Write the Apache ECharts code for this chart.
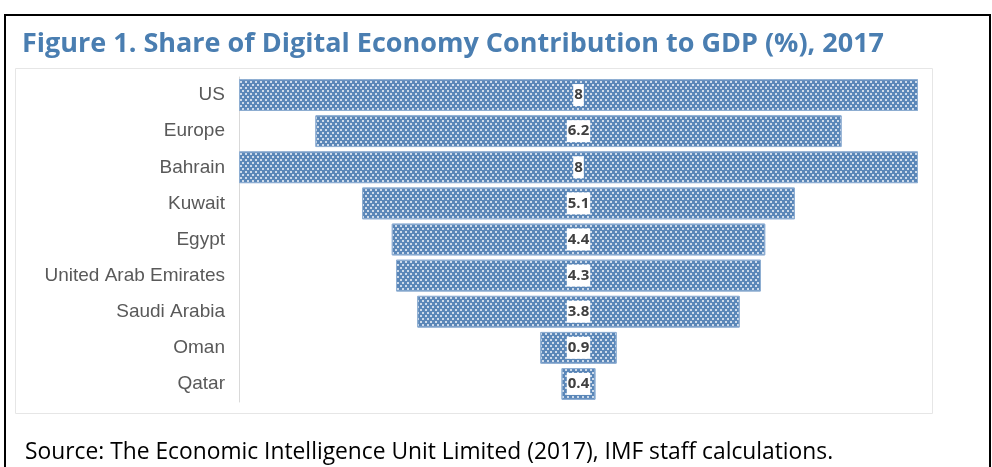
<!DOCTYPE html>
<html>
<head>
<meta charset="utf-8">
<script src="https://cdn.jsdelivr.net/npm/echarts@6/dist/echarts.min.js"></script>
<style>
html,body{margin:0;padding:0;background:#fff;}
#chart{width:992px;height:467px;}
</style>
</head>
<body>
<div id="chart"></div>
<script>
const categories = ['US','Europe','Bahrain','Kuwait','Egypt','United Arab Emirates','Saudi Arabia','Oman','Qatar'];
const values = [8, 6.2, 8, 5.1, 4.4, 4.3, 3.8, 0.9, 0.4];
const maxValue = 8;
const titleText = 'Figure 1. Share of Digital Economy Contribution to GDP (%), 2017';
const sourceText = 'Source: The Economic Intelligence Unit Limited (2017), IMF staff calculations.';

const offsets = values.map(v => (maxValue - v) / 2);

const chart = echarts.init(document.getElementById('chart'), null, {renderer: 'canvas'});
chart.setOption({
  animation: false,
  grid: {left: 239, right: 74, top: 77, bottom: 65, containLabel: false},
  xAxis: {type: 'value', min: 0, max: maxValue, show: false},
  yAxis: {
    type: 'category', data: categories, inverse: true,
    axisLine: {show: true, lineStyle: {color: '#d9d9d9', width: 1}},
    axisTick: {show: false},
    axisLabel: {color: '#595959', fontFamily: 'Liberation Sans', fontSize: 19, margin: 14}
  },
  graphic: [
    {type: 'rect', shape: {x: 5, y: 15, width: 985, height: 470}, style: {fill: 'none', stroke: '#000', lineWidth: 2}, silent: true},
    {type: 'rect', shape: {x: 15.5, y: 68.5, width: 917, height: 345}, style: {fill: 'none', stroke: '#e6e6e6', lineWidth: 1}, silent: true},
    {type: 'text', left: 22, top: 31, style: {text: titleText, fill: '#4a7eb1', font: 'bold 27px "Open Sans"'}},
    {type: 'text', left: 25, top: 441, style: {text: sourceText, fill: '#000', font: '22.8px "Open Sans"'}}
  ],
  series: [
    {
      type: 'bar', stack: 'f', data: offsets, barWidth: '88%',
      itemStyle: {color: 'transparent'}, silent: true
    },
    {
      type: 'bar', stack: 'f', data: values, barWidth: '88%',
      itemStyle: {
        color: '#5b87b8',
        borderColor: '#8eaed2', borderWidth: 1,
        decal: {
          symbol: 'rect', symbolSize: 1,
          color: 'rgba(255,255,255,0.7)',
          dashArrayX: [[1.5, 2.5], [0, 2, 1.5, 0.5]],
          dashArrayY: [1.5, 1]
        }
      },
      label: {
        show: true, position: 'inside',
        color: '#404040', fontFamily: 'Open Sans', fontWeight: 'bold', fontSize: 15,
        backgroundColor: '#fff', padding: [4, 1, 3, 1]
      }
    }
  ]
});
</script>
</body>
</html>
